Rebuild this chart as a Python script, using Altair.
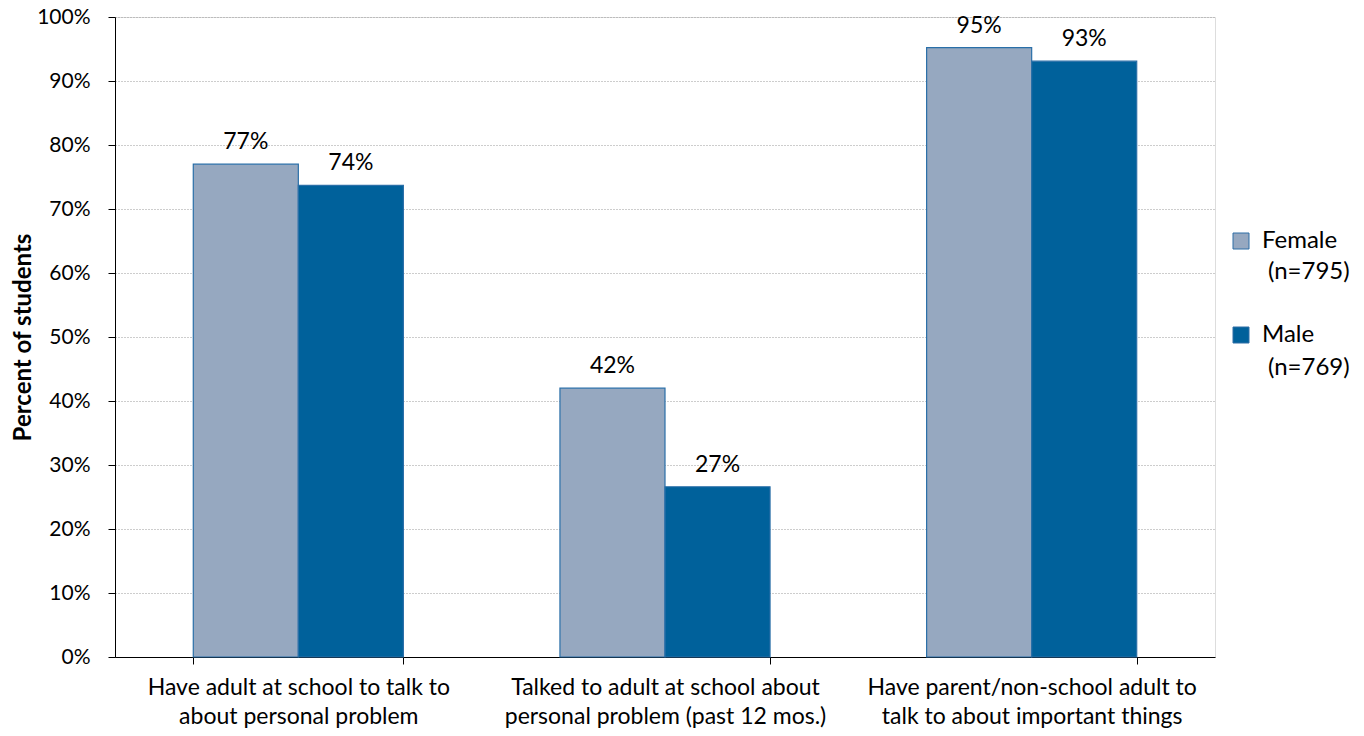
import altair as alt
import pandas as pd

categories = [
    "Have adult at school to talk to\nabout personal problem",
    "Talked to adult at school about\npersonal problem (past 12 mos.)",
    "Have parent/non-school adult to\ntalk to about important things",
]
genders = ["Female", "Male"]
sample_sizes = ["(n=795)", "(n=769)"]
female_values = [77.0, 42.0, 95.2]
male_values = [73.7, 26.6, 93.1]
female_labels = ["77%", "42%", "95%"]
male_labels = ["74%", "27%", "93%"]
y_ticks = [0, 10, 20, 30, 40, 50, 60, 70, 80, 90, 100]

rows = []
for i, c in enumerate(categories):
    rows.append({"cat": c, "gender": genders[0], "n": sample_sizes[0],
                 "value": female_values[i], "label": female_labels[i]})
    rows.append({"cat": c, "gender": genders[1], "n": sample_sizes[1],
                 "value": male_values[i], "label": male_labels[i]})
df = pd.DataFrame(rows)

FONT = "Lato"

x_enc = alt.X(
    "cat:N",
    sort=categories,
    scale=alt.Scale(paddingInner=0.427, paddingOuter=0.2135),
    axis=alt.Axis(
        title=None,
        labelAngle=0,
        labelExpr="split(datum.label, '\\n')",
        labelFont=FONT,
        labelFontSize=23,
        labelColor="#000000",
        labelPadding=12,
        labelLineHeight=29,
        labelLimit=500,
        tickBand="extent",
        tickColor="#000000",
        tickSize=7,
        domainColor="#000000",
        grid=False,
    ),
)

y_enc = alt.Y(
    "value:Q",
    scale=alt.Scale(domain=[0, 100]),
    axis=alt.Axis(
        title="Percent of students",
        titleFont=FONT,
        titleFontSize=24,
        titleFontWeight="bold",
        titleColor="#000000",
        titlePadding=1,
        values=y_ticks,
        labelExpr="datum.value + '%'",
        labelFont=FONT,
        labelFontSize=21,
        labelColor="#000000",
        labelPadding=18,
        tickColor="#000000",
        tickSize=7,
        domainColor="#000000",
        gridColor="#9a9a9a",
        gridDash=[1, 2],
        gridWidth=1,
    ),
)

color_enc = alt.Color(
    "gender:N",
    sort=genders,
    scale=alt.Scale(domain=genders, range=["#96A8C0", "#00619B"]),
    legend=alt.Legend(
        title=None,
        orient="none",
        legendX=1114,
        legendY=212,
        labelFont=FONT,
        labelFontSize=24,
        labelColor="#000000",
        labelBaseline="middle",
        symbolType="square",
        symbolSize=256,
        symbolStrokeColor="#2E6EA6",
        symbolStrokeWidth=1,
        symbolOffset=0,
        rowPadding=70,
        labelOffset=9,
    ),
)

n_enc = alt.Opacity(
    "n:N",
    sort=sample_sizes,
    scale=alt.Scale(domain=sample_sizes, range=[1, 1]),
    legend=alt.Legend(
        title=None,
        orient="none",
        legendX=1114,
        legendY=243,
        labelFont=FONT,
        labelFontSize=24,
        labelColor="#000000",
        labelBaseline="middle",
        symbolType="M0,0Z",
        symbolSize=256,
        symbolFillColor="#ffffff",
        symbolStrokeColor="#ffffff",
        symbolStrokeWidth=0,
        symbolOffset=0,
        rowPadding=72,
        labelOffset=15,
    ),
)

base = alt.Chart(df)

bars = base.mark_bar(stroke="#2A6FA8", strokeWidth=1.2).encode(
    x=x_enc,
    xOffset=alt.XOffset("gender:N", sort=genders),
    y=y_enc,
    color=color_enc,
)

text = base.mark_text(
    baseline="bottom", dy=-10, font=FONT, fontSize=23, color="#000000"
).encode(
    x=alt.X("cat:N", sort=categories),
    xOffset=alt.XOffset("gender:N", sort=genders),
    y="value:Q",
    text="label:N",
    opacity=n_enc,
)

chart = (
    alt.layer(bars, text)
    .properties(
        width=1100,
        height=640,
        autosize=alt.AutoSizeParams(type="none"),
        padding={"left": 107, "top": 9, "right": 140, "bottom": 79},
    )
    .configure_view(stroke=None)
    .configure(background="#ffffff")
)

chart.save("out.html", embed_options={"renderer": "svg", "actions": False})
